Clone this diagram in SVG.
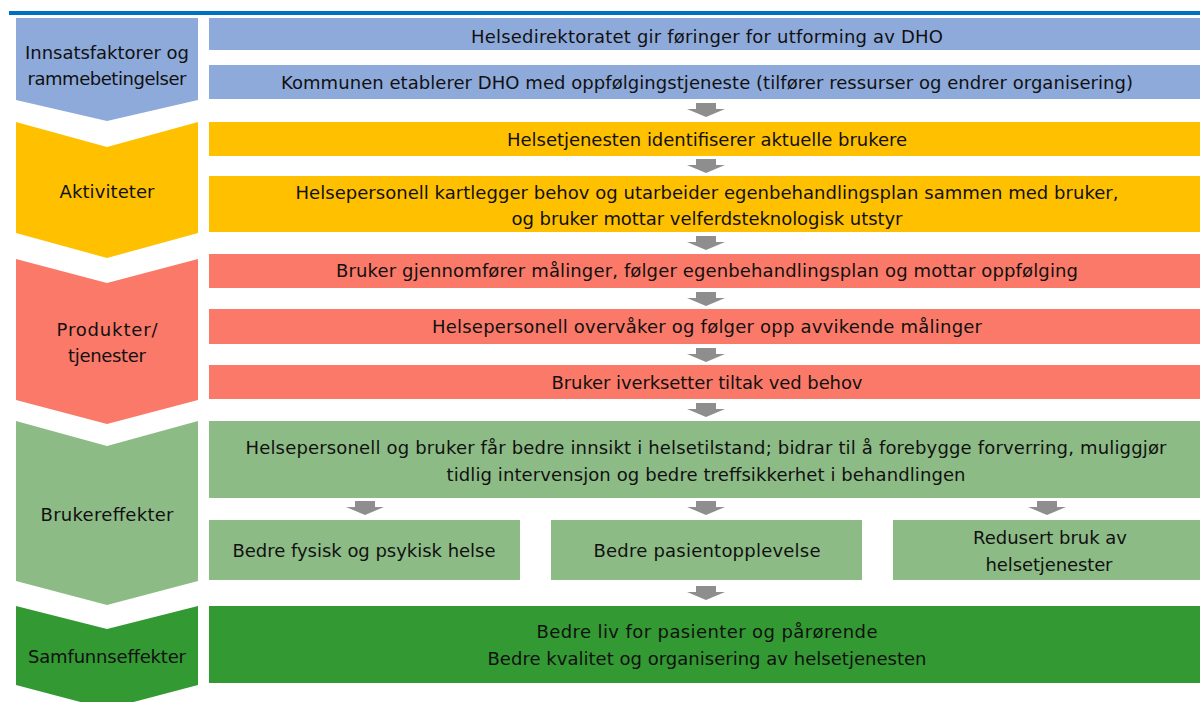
<svg xmlns="http://www.w3.org/2000/svg" width="1200" height="702" viewBox="0 0 1200 702">
  <style>
    text { font-family: "DejaVu Sans", "Liberation Sans", sans-serif; font-size: 18px; fill: #111; text-anchor: middle; }
    .blue { fill: #8EAADB; }
    .yellow { fill: #FFC000; }
    .red { fill: #FB7968; }
    .lgreen { fill: #8DBB86; }
    .dgreen { fill: #339933; }
    .arrow { fill: #8E8E8E; }
  </style>
  <defs>
    <path id="down" d="M-10,0 H10 V6 H19 L0,14 L-19,6 H-10 Z"/>
  </defs>

  <rect x="9" y="11" width="1191" height="4" fill="#0070C0"/>

  <!-- stage chevrons -->
  <g id="stage-innsats">
    <path class="blue" d="M16,18 H198 V100 L107,121 L16,100 Z"/>
    <text x="107" y="59" textLength="164">Innsatsfaktorer og</text>
    <text x="107" y="85" textLength="159">rammebetingelser</text>
  </g>
  <g id="stage-aktiviteter">
    <path class="yellow" d="M16,122 L107,147 L198,122 V233 L107,258 L16,233 Z"/>
    <text x="107" y="198" textLength="95">Aktiviteter</text>
  </g>
  <g id="stage-produkter">
    <path class="red" d="M16,259 L107,283 L198,259 V400 L107,424 L16,400 Z"/>
    <text x="107" y="336" textLength="101">Produkter/</text>
    <text x="107" y="362" textLength="78">tjenester</text>
  </g>
  <g id="stage-brukereffekter">
    <path class="lgreen" d="M16,421 L107,446 L198,421 V581 L107,605 L16,581 Z"/>
    <text x="107" y="521" textLength="133">Brukereffekter</text>
  </g>
  <g id="stage-samfunn">
    <path class="dgreen" d="M16,606 L107,629 L198,606 V685 L107,709 L16,685 Z"/>
    <text x="107" y="663" textLength="158">Samfunnseffekter</text>
  </g>

  <!-- content boxes -->
  <g id="b-foringer">
    <rect class="blue" x="209" y="18" width="991" height="32"/>
    <text x="707" y="43" textLength="472">Helsedirektoratet gir føringer for utforming av DHO</text>
  </g>
  <g id="b-kommunen">
    <rect class="blue" x="209" y="65" width="991" height="34"/>
    <text x="707" y="89" textLength="852">Kommunen etablerer DHO med oppfølgingstjeneste (tilfører ressurser og endrer organisering)</text>
  </g>
  <g id="b-identifiserer">
    <rect class="yellow" x="209" y="122" width="991" height="34"/>
    <text x="707" y="146" textLength="400">Helsetjenesten identifiserer aktuelle brukere</text>
  </g>
  <g id="b-kartlegger">
    <rect class="yellow" x="209" y="176" width="991" height="56"/>
    <text x="707" y="199" textLength="823">Helsepersonell kartlegger behov og utarbeider egenbehandlingsplan sammen med bruker,</text>
    <text x="707" y="225" textLength="391">og bruker mottar velferdsteknologisk utstyr</text>
  </g>
  <g id="b-malinger">
    <rect class="red" x="209" y="254" width="991" height="34"/>
    <text x="707" y="277" textLength="742">Bruker gjennomfører målinger, følger egenbehandlingsplan og mottar oppfølging</text>
  </g>
  <g id="b-overvaker">
    <rect class="red" x="209" y="309" width="991" height="35"/>
    <text x="707" y="333" textLength="550">Helsepersonell overvåker og følger opp avvikende målinger</text>
  </g>
  <g id="b-tiltak">
    <rect class="red" x="209" y="365" width="991" height="34"/>
    <text x="707" y="389" textLength="311">Bruker iverksetter tiltak ved behov</text>
  </g>
  <g id="b-innsikt">
    <rect class="lgreen" x="209" y="421" width="991" height="77"/>
    <text x="706" y="454" textLength="921">Helsepersonell og bruker får bedre innsikt i helsetilstand; bidrar til å forebygge forverring, muliggjør</text>
    <text x="706" y="481" textLength="519">tidlig intervensjon og bedre treffsikkerhet i behandlingen</text>
  </g>
  <g id="b-helse">
    <rect class="lgreen" x="209" y="520" width="311" height="60"/>
    <text x="364" y="557" textLength="263">Bedre fysisk og psykisk helse</text>
  </g>
  <g id="b-pasientopplevelse">
    <rect class="lgreen" x="551" y="520" width="311" height="60"/>
    <text x="707" y="557" textLength="227">Bedre pasientopplevelse</text>
  </g>
  <g id="b-bruk">
    <rect class="lgreen" x="893" y="520" width="307" height="60"/>
    <text x="1050" y="544" textLength="154">Redusert bruk av</text>
    <text x="1049" y="571" textLength="127">helsetjenester</text>
  </g>
  <g id="b-samfunn">
    <rect class="dgreen" x="209" y="606" width="991" height="77"/>
    <text x="707" y="638" textLength="341">Bedre liv for pasienter og pårørende</text>
    <text x="707" y="665" textLength="439">Bedre kvalitet og organisering av helsetjenesten</text>
  </g>

  <!-- connectors -->
  <g id="connectors" class="arrow">
    <use href="#down" x="706" y="103"/>
    <use href="#down" x="706" y="159"/>
    <use href="#down" x="706" y="236"/>
    <use href="#down" x="706" y="292"/>
    <use href="#down" x="706" y="348"/>
    <use href="#down" x="706" y="403"/>
    <use href="#down" x="365" y="501"/>
    <use href="#down" x="706" y="501"/>
    <use href="#down" x="1047" y="501"/>
    <use href="#down" x="706" y="586"/>
  </g>
</svg>
